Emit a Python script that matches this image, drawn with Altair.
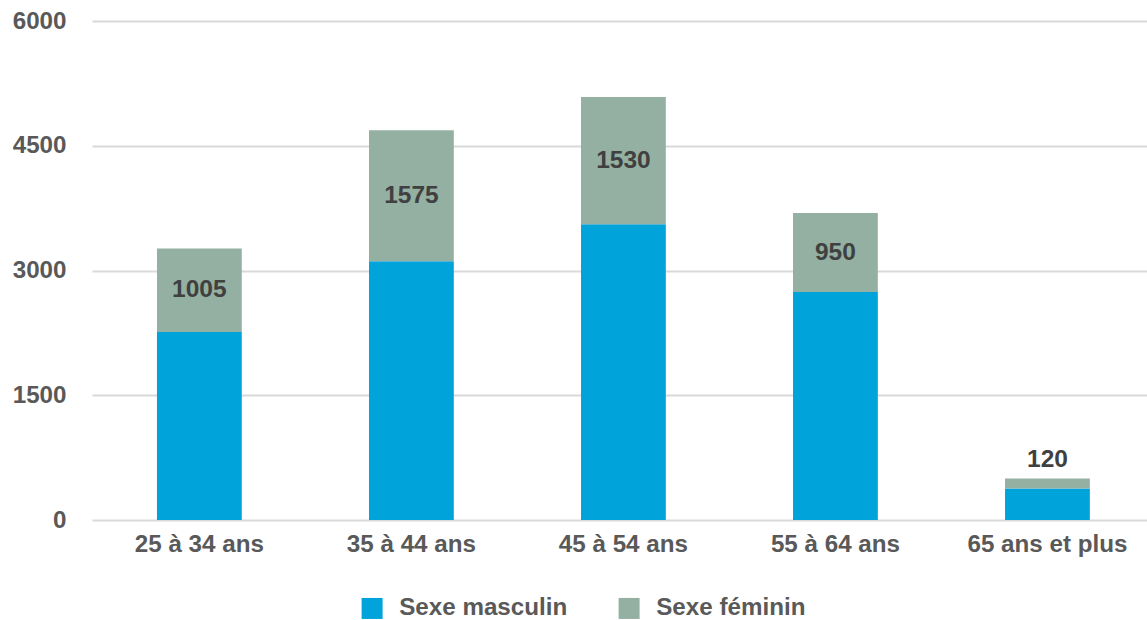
import altair as alt
import pandas as pd

# Effectifs par tranche d'âge et par sexe
categories = ["25 à 34 ans", "35 à 44 ans", "45 à 54 ans", "55 à 64 ans", "65 ans et plus"]
masculin = [2260, 3110, 3555, 2740, 380]
feminin = [1005, 1575, 1530, 950, 120]
series = ["Sexe masculin", "Sexe féminin"]
colors = ["#00A3DA", "#94B0A2"]
y_ticks = [0, 1500, 3000, 4500, 6000]

rows = []
for cat, m, f in zip(categories, masculin, feminin):
    rows.append({"cat": cat, "serie": series[0], "val": m, "ord": 0})
    rows.append({"cat": cat, "serie": series[1], "val": f, "ord": 1})
bars_df = pd.DataFrame(rows)

labels_df = pd.DataFrame({
    "cat": categories,
    "fem": feminin,
    "mid": [m + f / 2 for m, f in zip(masculin, feminin)],
    "top": [m + f for m, f in zip(masculin, feminin)],
})
labels_df["inside"] = labels_df["fem"] >= 300

FONT = "Liberation Sans"
GREY = "#595959"
AXIS_FS = 24.2

band = alt.Scale(paddingInner=0.6, paddingOuter=0.288, align=0.532)
yscale = alt.Scale(domain=[0, 6000], nice=False)

x_axis = alt.Axis(
    labelAngle=0, domain=False, ticks=False, grid=False, labelPadding=12,
    labelFont=FONT, labelFontSize=AXIS_FS, labelFontWeight="bold", labelColor=GREY,
)
y_axis = alt.Axis(
    values=y_ticks, format="d", domain=False, ticks=False, labelPadding=26,
    labelFont=FONT, labelFontSize=AXIS_FS, labelFontWeight="bold", labelColor=GREY,
    gridColor="#D9D9D9", gridWidth=2,
)

bars = alt.Chart(bars_df).mark_bar().encode(
    x=alt.X("cat:N", sort=categories, title=None, scale=band, axis=x_axis),
    y=alt.Y("sum(val):Q", title=None, scale=yscale, axis=y_axis),
    color=alt.Color(
        "serie:N",
        scale=alt.Scale(domain=series, range=colors),
        legend=alt.Legend(
            title=None, orient="none", direction="horizontal",
            legendX=268, legendY=575,
            symbolType="square", symbolSize=441, symbolStrokeWidth=0,
            symbolOpacity=1, labelOffset=15, columnPadding=49, labelLimit=400,
            labelFont=FONT, labelFontSize=AXIS_FS, labelFontWeight="bold", labelColor=GREY,
        ),
    ),
    order=alt.Order("ord:Q", sort="ascending"),
)

text_style = dict(font=FONT, fontSize=24.5, fontWeight="bold", color="#404040")

inside_labels = alt.Chart(labels_df).transform_filter(
    alt.datum.inside
).mark_text(baseline="middle", **text_style).encode(
    x=alt.X("cat:N", sort=categories, title=None, scale=band, axis=x_axis),
    y=alt.Y("mid:Q", title=None, scale=yscale, axis=y_axis),
    text=alt.Text("fem:Q"),
)

outside_labels = alt.Chart(labels_df).transform_filter(
    ~alt.datum.inside
).mark_text(baseline="alphabetic", dy=-11, **text_style).encode(
    x=alt.X("cat:N", sort=categories, title=None, scale=band, axis=x_axis),
    y=alt.Y("top:Q", title=None, scale=yscale, axis=y_axis),
    text=alt.Text("fem:Q"),
)

chart = (
    alt.layer(bars, inside_labels, outside_labels)
    .properties(
        width=1055,
        height=499,
        background="white",
        autosize=alt.AutoSizeParams(type="none"),
        padding={"left": 92, "top": 21, "right": 0, "bottom": 100},
    )
    .configure_view(strokeWidth=0, stroke="transparent")
)

chart.save("out.html", embed_options={"renderer": "svg", "actions": False})
